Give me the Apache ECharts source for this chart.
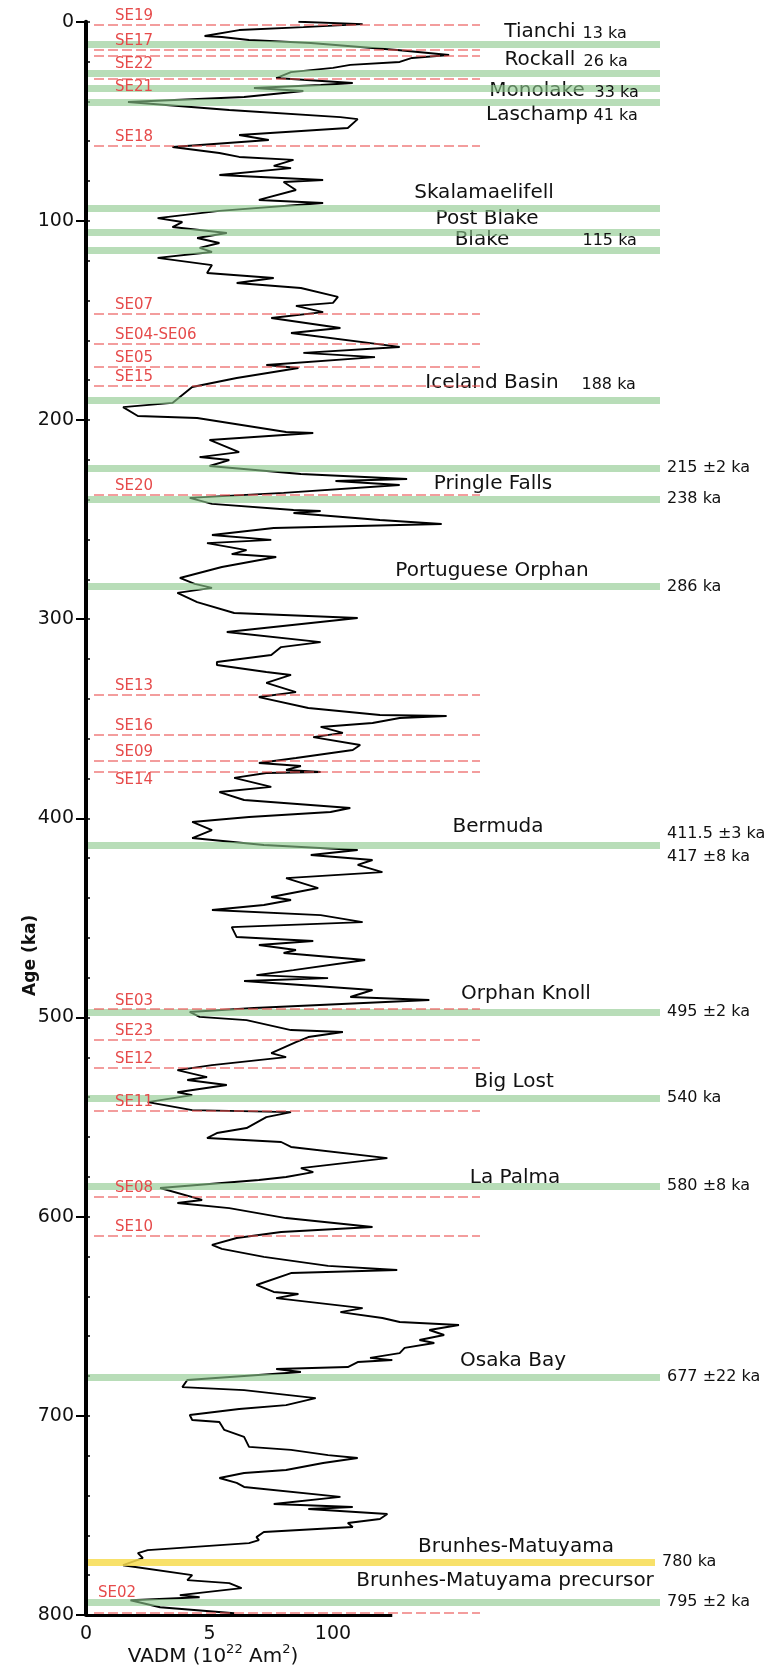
<!DOCTYPE html>
<html>
<head>
<meta charset="utf-8">
<script src="https://cdn.jsdelivr.net/npm/echarts@6/dist/echarts.min.js"></script>
<style>
html, body { margin: 0; padding: 0; background: #fff; }
#chart { width: 778px; height: 1669px; }
</style>
</head>
<body>
<div id="chart"></div>
<script>
// VADM record, age in ka, VADM in 10^22 Am^2
const curveAge = [0, 1.2, 2.7, 4.2, 7.2, 7.7, 9.2, 10.7, 14.2, 16.7, 18.2, 20.2, 21.7, 23.2, 25.3, 28.3, 30.8, 31.8, 33.3, 34.8,
    37.8, 40.3, 44.3, 47.9, 48.9, 53.4, 56.9, 59.4, 62.9, 65.9, 67.9, 69.4, 72.4, 73.5, 77.0, 79.5, 80.5, 84.5, 89.5, 91.0,
    95.0, 98.6, 100.6, 103.1, 106.1, 108.6, 111.1, 113.6, 115.6, 118.6, 122.2, 126.2, 128.7, 131.2, 133.7, 138.2, 141.2, 142.7, 145.8, 148.8,
    153.8, 156.3, 163.3, 166.3, 168.4, 172.4, 173.9, 178.9, 183.4, 191.4, 193.5, 198.0, 199.0, 206.0, 206.5, 210.0, 216.1, 218.6, 220.1, 223.1,
    227.1, 229.6, 230.6, 232.6, 236.6, 239.1, 242.1, 245.2, 245.7, 246.7, 250.2, 252.2, 254.2, 257.7, 260.2, 261.8, 265.3, 267.3, 268.8, 273.8,
    279.3, 282.3, 284.3, 286.8, 291.4, 296.9, 299.4, 306.4, 311.5, 314.0, 318.0, 321.5, 323.0, 326.5, 328.0, 332.0, 336.6, 339.1, 344.6, 348.1,
    348.6, 349.6, 352.1, 354.1, 357.1, 359.2, 363.2, 365.7, 369.7, 372.2, 373.7, 375.7, 376.7, 377.2, 379.7, 384.2, 386.8, 390.8, 394.8, 396.8,
    399.3, 401.8, 405.9, 409.9, 413.4, 415.9, 418.4, 420.9, 423.4, 427.0, 430.0, 435.0, 439.5, 441.0, 443.5, 446.0, 448.6, 452.1, 454.6, 459.6,
    461.6, 463.6, 466.1, 467.6, 471.1, 476.2, 478.7, 480.2, 481.7, 486.2, 489.7, 491.2, 495.2, 497.2, 499.7, 501.3, 506.3, 507.3, 509.8, 512.3,
    517.9, 519.9, 523.9, 526.4, 529.9, 531.4, 533.9, 537.5, 539.0, 542.5, 546.5, 547.5, 550.0, 555.5, 558.0, 560.5, 562.5, 565.0, 570.6, 575.6,
    577.6, 580.1, 581.6, 585.6, 591.6, 593.1, 595.7, 600.7, 605.2, 607.7, 610.7, 614.2, 616.2, 620.2, 624.7, 626.8, 628.3, 634.3, 637.8, 638.8,
    640.9, 645.9, 647.9, 650.9, 652.9, 654.4, 656.9, 659.4, 661.9, 663.4, 665.9, 668.5, 670.9, 672.0, 673.0, 675.5, 676.5, 678.0, 682.0, 685.6,
    687.1, 691.1, 694.6, 696.6, 699.6, 702.1, 703.1, 707.1, 710.6, 715.6, 717.1, 719.7, 721.2, 723.7, 727.2, 728.7, 731.2, 733.7, 735.7, 740.7,
    744.3, 745.8, 746.8, 749.3, 751.8, 753.8, 755.8, 758.3, 760.9, 762.4, 763.9, 767.4, 768.9, 771.4, 775.0, 780.0, 782.5, 784.0, 786.5, 790.0,
    791.1, 792.6, 796.1, 799.1]
const curveVadm = [8.6, 11.2, 8.8, 6.2, 4.8, 5.5, 6.6, 9.1, 12.6, 14.7, 13.2, 12.7, 10.7, 10.0, 8.3, 7.7, 10.8, 9.5, 6.8, 8.8,
    6.4, 1.7, 5.8, 10.3, 11.0, 10.6, 6.2, 7.4, 3.5, 5.4, 6.2, 8.4, 7.6, 8.3, 5.4, 9.6, 8.0, 8.5, 7.0, 9.6,
    5.4, 2.9, 3.9, 3.5, 5.7, 4.5, 5.4, 4.6, 5.1, 2.9, 5.1, 4.9, 7.6, 6.1, 8.7, 10.2, 10.0, 8.5, 9.6, 7.5,
    10.3, 8.3, 12.7, 8.8, 11.7, 7.3, 8.6, 6.1, 4.3, 3.5, 1.5, 2.1, 4.5, 8.1, 9.2, 5.0, 6.2, 4.6, 5.8, 5.0,
    8.7, 13.0, 10.1, 12.7, 8.0, 4.2, 5.1, 8.4, 9.5, 8.4, 11.9, 14.4, 7.6, 5.1, 7.5, 4.9, 6.5, 5.9, 7.7, 5.5,
    3.8, 4.4, 5.1, 3.7, 4.5, 6.0, 11.0, 5.7, 9.5, 7.9, 7.5, 5.3, 5.3, 7.3, 8.3, 7.3, 8.5, 7.0, 9.0, 11.9,
    14.6, 12.7, 11.6, 9.5, 10.4, 9.2, 11.1, 10.8, 8.5, 7.0, 8.7, 8.1, 9.5, 7.3, 6.0, 7.5, 5.4, 6.4, 10.7, 9.9,
    6.6, 4.3, 5.1, 4.3, 7.2, 11.0, 9.1, 11.6, 11.0, 12.0, 8.1, 9.4, 7.5, 8.3, 7.2, 5.1, 9.5, 11.2, 5.9, 6.1,
    9.2, 7.0, 8.5, 8.0, 11.3, 8.4, 6.9, 9.8, 6.4, 11.6, 10.7, 13.9, 6.8, 4.2, 4.6, 6.5, 8.3, 10.4, 9.0, 8.5,
    7.5, 8.1, 5.1, 3.7, 4.9, 4.1, 5.7, 3.7, 4.3, 2.5, 4.3, 8.3, 7.3, 6.5, 5.3, 4.9, 7.9, 8.3, 12.2, 8.7,
    9.2, 8.1, 7.0, 3.0, 4.7, 3.7, 5.8, 8.1, 11.6, 7.9, 6.1, 5.1, 5.5, 7.2, 9.8, 12.6, 8.3, 6.9, 7.6, 8.6,
    7.7, 11.2, 10.3, 12.0, 12.7, 15.1, 13.9, 14.5, 13.5, 14.1, 12.9, 12.7, 11.5, 12.4, 11.0, 10.6, 7.7, 8.7, 4.1, 3.9,
    6.4, 9.3, 8.1, 6.2, 4.2, 4.3, 5.4, 5.6, 6.4, 6.6, 8.3, 9.8, 11.0, 9.6, 8.1, 6.4, 5.4, 6.1, 6.4, 10.3,
    7.6, 10.8, 9.0, 12.2, 11.9, 10.6, 10.8, 7.2, 6.9, 7.0, 6.6, 2.5, 2.1, 2.3, 1.5, 4.3, 4.1, 5.8, 6.3, 3.8,
    4.6, 1.8, 3.0, 6.0]

// red dashed event lines
const seNames = ['SE19', 'SE17', 'SE22', 'SE21', 'SE18', 'SE07', 'SE04-SE06', 'SE05', 'SE15', 'SE20', 'SE13',
    'SE16', 'SE09', 'SE14', 'SE03', 'SE23', 'SE12', 'SE11', 'SE08', 'SE10', 'SE02']
const seAges = [1.7, 14.2, 17.1, 28.8, 62.3, 146.4, 161.7, 173.2, 182.9, 237.3, 338.1,
    358.1, 371.2, 376.6, 495.8, 511.3, 525.2, 546.6, 590.0, 609.6, 798.9]

// excursion bands
const bandNames = ['Tianchi', 'Rockall', 'Monolake', 'Laschamp', 'Skalamaelifell', 'Post Blake', 'Blake', 'Iceland Basin', '',
    'Pringle Falls', 'Portuguese Orphan', 'Bermuda', 'Orphan Knoll', 'Big Lost', 'La Palma', 'Osaka Bay',
    'Brunhes-Matuyama', 'Brunhes-Matuyama precursor']
const bandAges = [11.5, 26.1, 33.3, 40.3, 93.5, 105.6, 114.6, 190.3, 224.2,
    239.6, 283.7, 413.4, 497.4, 540.3, 584.5, 680.5,
    773.4, 793.6]
const bandKa = ['13 ka', '26 ka', '33 ka', '41 ka', '', '', '115 ka', '188 ka', '215 ±2 ka',
    '238 ka', '286 ka', '411.5 ±3 ka\n417 ±8 ka', '495 ±2 ka', '540 ka', '580 ±8 ka', '677 ±22 ka',
    '780 ka', '795 ±2 ka']

const xTickValues = [0, 5, 10]
const xTickLabels = ['0', '5', '100']
const vadmAxisEnd = 12.4

// layout (pixels)
const plot = { left: 86, top: 21.7, height: 1593.3, width: 778, pxPerUnit: 24.7 }
const bandSpan = [88, 660]
const seSpan = [94, 480]
const seLabelSide = ['top', 'top', 'bottom', 'bottom', 'top', 'top', 'top', 'top', 'top', 'top', 'top',
    'top', 'top', 'bottom', 'top', 'top', 'top', 'top', 'top', 'top', 'top']
// name label: [centre x, dy from band]
const nameLayout = [[540, -13], [540, -14], [537, 3], [537, 13], [484, -15], [487, -13], [482, -10], [492, -18], null,
    [493, -15], [492, -16], [498, -18], [526, -19], [514, -16], [515, -8], [513, -16],
    [516, -15], [505, -21]]
// ka label: [left x, dy] when inside the plot, null when after the band end
const kaLayout = [[582, -11], [583, -12], [594, 5], [593, 14], null, null, [582, -9], [581, -16], null,
    null, null, null, null, null, null, null, null, null]
const yellowBand = 'Brunhes-Matuyama'

const font = 'DejaVu Sans'
const seColor = '#e64b4b'
const dataWidth = plot.width - plot.left

let Charts = echarts.init(document.getElementById('chart'))

let bandLines = bandAges.map((age, i) => {
    let yellow = bandNames[i] === yellowBand
    return [
        {
            coord: [bandSpan[0], age],
            lineStyle: {
                color: yellow ? 'rgba(247,220,80,0.85)' : 'rgba(140,200,140,0.62)',
                width: 7,
                type: 'solid'
            },
            label: {
                show: !kaLayout[i] && bandKa[i] !== '',
                position: 'end',
                distance: [7, 0],
                formatter: bandKa[i],
                fontFamily: font,
                fontSize: 16,
                lineHeight: 23,
                color: '#111'
            }
        },
        { coord: [yellow ? bandSpan[1] - 5 : bandSpan[1], age] }
    ]
})

let seLines = seAges.map((age, i) => {
    let last = seNames[i] === 'SE02'
    return [
        {
            coord: [seSpan[0], age],
            label: {
                show: true,
                formatter: seNames[i],
                position: seLabelSide[i] === 'top' ? 'insideStartTop' : 'insideStartBottom',
                distance: last ? [4, 12] : [21, 1],
                color: seColor,
                fontFamily: font,
                fontSize: 15
            }
        },
        { coord: [seSpan[1], age] }
    ]
})

let nameData = []
let kaData = []
bandNames.forEach((n, i) => {
    if (n && nameLayout[i]) {
        nameData.push({ value: [nameLayout[i][0], bandAges[i]], label: { formatter: n, offset: [0, nameLayout[i][1]] } })
    }
    if (kaLayout[i]) {
        kaData.push({ value: [kaLayout[i][0], bandAges[i]], label: { formatter: bandKa[i], offset: [0, kaLayout[i][1]] } })
    }
})

Charts.setOption({
    animation: false,
    grid: [
        { left: plot.left, top: plot.top, width: dataWidth, height: plot.height, outerBoundsMode: 'none', containLabel: false },
        { left: 0, top: plot.top, width: plot.width, height: plot.height, outerBoundsMode: 'none', containLabel: false }
    ],
    xAxis: [
        {
            type: 'value',
            gridIndex: 0,
            min: 0,
            max: dataWidth / plot.pxPerUnit,
            interval: 5,
            name: '{t|VADM (10}{s|22}{t| Am}{s|2}{t|)}',
            nameLocation: 'middle',
            nameGap: 28,
            nameMoveOverlap: false,
            nameTextStyle: {
                padding: [0, 2 * (dataWidth / 2 - 127), 0, 0],
                rich: {
                    t: { fontFamily: font, fontSize: 20, color: '#111', lineHeight: 27 },
                    s: { fontFamily: font, fontSize: 13, color: '#111', verticalAlign: 'top', lineHeight: 14 }
                }
            },
            axisLine: { show: false },
            axisTick: { show: false },
            splitLine: { show: false },
            axisLabel: {
                margin: 10,
                fontFamily: font,
                fontSize: 19,
                color: '#111',
                formatter: v => {
                    let i = xTickValues.indexOf(v)
                    return i >= 0 ? xTickLabels[i] : ''
                }
            }
        },
        { type: 'value', gridIndex: 1, min: 0, max: plot.width, show: false }
    ],
    yAxis: [
        {
            type: 'value',
            gridIndex: 0,
            position: 'left',
            inverse: true,
            min: 0,
            max: 800,
            interval: 100,
            name: 'Age (ka)',
            nameLocation: 'middle',
            nameGap: 47,
            nameMoveOverlap: false,
            nameTextStyle: {
                fontFamily: font,
                fontSize: 17,
                fontWeight: 'bold',
                color: '#111',
                padding: [0, 274, 0, 0]
            },
            axisLine: { lineStyle: { color: '#000', width: 4 } },
            axisTick: { length: 10, lineStyle: { color: '#000', width: 2 } },
            splitLine: { show: false },
            axisLabel: { margin: 12, fontFamily: font, fontSize: 19, color: '#111' }
        },
        {
            type: 'value',
            gridIndex: 0,
            position: 'left',
            offset: 0,
            inverse: true,
            min: 0,
            max: 800,
            interval: 20,
            axisLine: { show: false },
            axisTick: { inside: true, length: 4, lineStyle: { color: '#000', width: 1.5 } },
            axisLabel: { show: false },
            splitLine: { show: false }
        },
        { type: 'value', gridIndex: 1, inverse: true, min: 0, max: 800, show: false }
    ],
    series: [
        {
            name: 'VADM',
            type: 'line',
            xAxisIndex: 0,
            yAxisIndex: 0,
            data: curveAge.map((a, i) => [curveVadm[i], a]),
            symbol: 'none',
            silent: true,
            z: 2,
            lineStyle: { color: '#000', width: 1.9 },
            markLine: {
                silent: true,
                animation: false,
                symbol: ['none', 'none'],
                label: { show: false },
                lineStyle: { color: '#000', width: 3, type: 'solid' },
                data: [[{ coord: [0, 800] }, { coord: [vadmAxisEnd, 800] }]]
            }
        },
        {
            name: 'bands',
            type: 'scatter',
            xAxisIndex: 1,
            yAxisIndex: 2,
            symbolSize: 1,
            silent: true,
            z: 4,
            itemStyle: { color: 'rgba(0,0,0,0)', opacity: 1 },
            label: { show: true, position: 'inside', fontFamily: font, fontSize: 20, color: '#111' },
            data: nameData,
            markLine: {
                silent: true,
                animation: false,
                symbol: ['none', 'none'],
                label: { show: false },
                data: bandLines
            }
        },
        {
            name: 'ka',
            type: 'scatter',
            xAxisIndex: 1,
            yAxisIndex: 2,
            symbolSize: 1,
            silent: true,
            z: 5,
            itemStyle: { color: 'rgba(0,0,0,0)', opacity: 1 },
            label: { show: true, position: 'right', distance: 0, fontFamily: font, fontSize: 16, color: '#111' },
            data: kaData
        },
        {
            name: 'SE',
            type: 'scatter',
            xAxisIndex: 1,
            yAxisIndex: 2,
            symbolSize: 0,
            silent: true,
            z: 5,
            data: [],
            markLine: {
                silent: true,
                animation: false,
                symbol: ['none', 'none'],
                lineStyle: { color: 'rgba(234,80,80,0.75)', width: 1.5, type: [10, 4] },
                data: seLines
            }
        }
    ]
})
</script>
</body>
</html>
